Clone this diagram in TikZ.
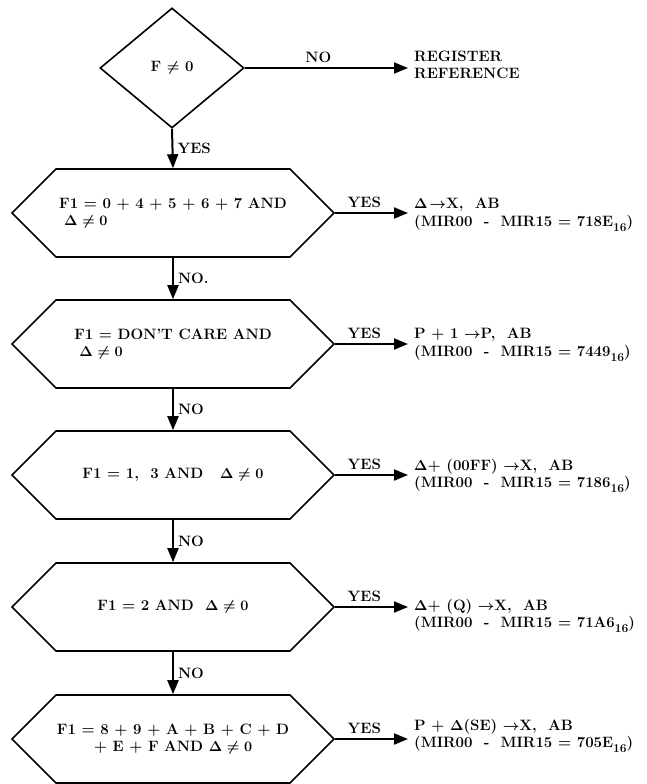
\documentclass[tikz,border=0pt]{standalone}
\usepackage{amsmath}
\usepackage{amssymb}
\usetikzlibrary{shapes.geometric,shapes.symbols,arrows.meta,positioning}

\newcommand{\hexsub}[1]{\raisebox{-5pt}{\fontsize{12}{12}\selectfont #1}}

\tikzset{
  decision/.style={diamond, draw, line width=1.6pt, minimum width=144pt, minimum height=120pt, inner sep=0pt},
  hexbox/.style={signal, signal to=west and east, signal pointer angle=90, draw, line width=1.6pt,
    minimum width=322pt, minimum height=88pt, inner sep=0pt},
  result/.style={anchor=west, align=left, inner xsep=6pt, inner ysep=0pt},
  flow/.style={line width=2pt, -{Triangle[length=14pt,width=11pt]}},
  tag/.style={inner sep=4pt}
}

\begin{document}
\begin{tikzpicture}[x=1pt, y=-1pt, font=\fontsize{15}{17.5}\selectfont\bfseries\boldmath]
	\useasboundingbox (0,0) rectangle (646,784);
	% decision chain
	\node[decision] (fz) at (172,68) {F $\neq$ 0};
	\node[hexbox, align=left] (h1) at (173,213) {F1 = 0 + 4 + 5 + 6 + 7 AND\\\hspace{5pt}$\Delta\neq 0$};
	\node[hexbox, align=left] (h2) at (173,344) {F1 = DON'T CARE AND\\\hspace{5pt}$\Delta\neq 0$};
	\node[hexbox] (h3) at (173,475) {F1 = 1, \ 3 AND \ \ $\Delta\neq 0$};
	\node[hexbox] (h4) at (173,607) {F1 = 2 AND \ $\Delta\neq 0$};
	\node[hexbox, align=center] (h5) at (173,739) {F1 = 8 + 9 + A + B + C + D\\+ E + F AND $\Delta\neq 0$};
	% results
	\node[result] (reg) at (408,65) {REGISTER\\REFERENCE};
	\node[result] (o1) at (408,215) {$\Delta\!\rightarrow$X, \ AB\\(MIR00 \ - \ MIR15 = 718E\hexsub{16})};
	\node[result] (o2) at (408,345) {P + 1 $\rightarrow$P, \ AB\\(MIR00 \ - \ MIR15 = 7449\hexsub{16})};
	\node[result] (o3) at (408,476) {$\Delta$+ (00FF) $\rightarrow$X, \ AB\\(MIR00 \ - \ MIR15 = 7186\hexsub{16})};
	\node[result] (o4) at (408,616) {$\Delta$+ (Q) $\rightarrow$X, \ AB\\(MIR00 \ - \ MIR15 = 71A6\hexsub{16})};
	\node[result] (o5) at (408,736) {P + $\Delta$(SE) $\rightarrow$X, \ AB\\(MIR00 \ - \ MIR15 = 705E\hexsub{16})};
	% connectors
	\draw[flow] (fz.east) -- node[tag, above, pos=0.45] {NO} (fz.east -| reg.west);
	\draw[flow] (fz.south) -- node[tag, right] {YES} (h1.north);
	\draw[flow] (h1.south) -- node[tag, right] {NO.} (h2.north);
	\draw[flow] (h2.south) -- node[tag, right] {NO} (h3.north);
	\draw[flow] (h3.south) -- node[tag, right] {NO} (h4.north);
	\draw[flow] (h4.south) -- node[tag, right] {NO} (h5.north);
	\draw[flow] (h1.east) -- node[tag, above, pos=0.4] {YES} (h1.east -| o1.west);
	\draw[flow] (h2.east) -- node[tag, above, pos=0.4] {YES} (h2.east -| o2.west);
	\draw[flow] (h3.east) -- node[tag, above, pos=0.4] {YES} (h3.east -| o3.west);
	\draw[flow] (h4.east) -- node[tag, above, pos=0.4] {YES} (h4.east -| o4.west);
	\draw[flow] (h5.east) -- node[tag, above, pos=0.4] {YES} (h5.east -| o5.west);
\end{tikzpicture}
\end{document}
